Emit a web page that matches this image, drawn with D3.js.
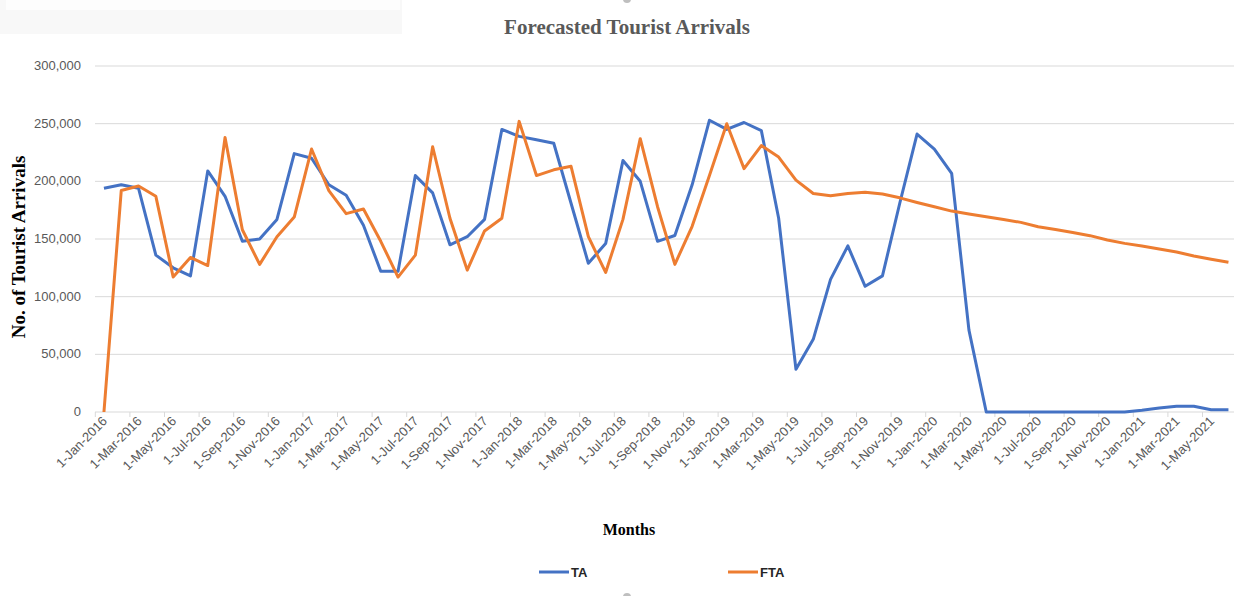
<!DOCTYPE html>
<html>
<head>
<meta charset="utf-8">
<script src="https://cdn.jsdelivr.net/npm/d3@7"></script>
<style>
  body { margin: 0; background: white; }
</style>
</head>
<body>
<div id="chart"></div>
<script>
// months Jan-2016 .. Jun-2021
var monthNames = ['Jan','Feb','Mar','Apr','May','Jun','Jul','Aug','Sep','Oct','Nov','Dec'];
var months = [];
for (var yr = 2016; yr <= 2021; yr++) {
    for (var m = 0; m < 12; m++) {
        if (yr == 2021 && m > 5) break;
        months.push('1-' + monthNames[m] + '-' + yr);
    }
}

var taValues = [194000, 197000, 194000, 136000, 125000, 118000, 209000, 187000, 148000, 150000,
    167000, 224000, 220000, 197000, 188000, 162000, 122000, 122000, 205000, 190000,
    145000, 152000, 167000, 245000, 239000, 236000, 233000, 181000, 129000, 146000,
    218000, 200000, 148000, 153000, 197000, 253000, 245000, 251000, 244000, 168000,
    37000, 63000, 115000, 144000, 109000, 118000, 181000, 241000, 228000, 207000,
    71000, 0, 0, 0, 0, 0, 0, 0, 0, 0,
    1500, 3500, 5000, 5000, 2000, 2000];

var ftaValues = [0, 192000, 196000, 187000, 117000, 134000, 127000, 238000, 158000, 128000,
    152000, 169000, 228000, 192000, 172000, 176000, 148000, 117000, 136000, 230000,
    168000, 123000, 157000, 168000, 252000, 205000, 210000, 213000, 152000, 121000,
    167000, 237000, 178000, 128000, 161000, 205000, 250000, 211000, 231000, 221000,
    201000, 189500, 187500, 189500, 190600, 189000, 185700, 181700, 178000, 174200,
    171600, 169300, 167000, 164400, 160600, 158300, 155700, 152900, 149100, 146200,
    143900, 141300, 138700, 135300, 132400, 129800];

var yTicks = [0, 50000, 100000, 150000, 200000, 250000, 300000];

var svgWidth = 1234,
    svgHeight = 596;

var svg = d3.select('#chart').append('svg')
    .attr('width', svgWidth)
    .attr('height', svgHeight)
    .style('background', 'white')

// faint shadow box top-left
svg.append('rect')
    .attr('x', 0).attr('y', 0).attr('width', 402).attr('height', 34)
    .attr('fill', '#f8f8f8')
svg.append('rect')
    .attr('x', 6).attr('y', 0).attr('width', 394).attr('height', 10)
    .attr('fill', '#fdfdfd')

var x = d3.scaleBand()
    .domain(months)
    .range([95.3, 95.3 + 17.3 * months.length])
    .padding(0)

var y = d3.scaleLinear()
    .domain([0, 300000])
    .range([412, 66])

var xc = function(d) { return x(d) + x.bandwidth() / 2 }

// gridlines
svg.append('g')
    .selectAll('line')
    .data(yTicks.slice(1))
    .enter().append('line')
    .attr('x1', 95).attr('x2', svgWidth)
    .attr('y1', function(d) { return y(d) }).attr('y2', function(d) { return y(d) })
    .attr('stroke', '#d9d9d9').attr('stroke-width', 1)

// y tick labels
svg.append('g')
    .selectAll('text')
    .data(yTicks)
    .enter().append('text')
    .text(function(d) { return d3.format(',')(d) })
    .attr('x', 81)
    .attr('y', function(d) { return y(d) + 4 })
    .attr('text-anchor', 'end')
    .attr('font-family', 'Liberation Sans Narrow, Liberation Sans, Arial, sans-serif')
    .attr('font-size', '13px')
    .attr('fill', '#595959')

// x axis line and ticks
svg.append('line')
    .attr('x1', 95).attr('x2', svgWidth)
    .attr('y1', y(0)).attr('y2', y(0))
    .attr('stroke', '#d9d9d9').attr('stroke-width', 1)

var tickMonths = months.filter(function(d, i) { return i % 2 == 0 })

svg.append('g')
    .selectAll('line')
    .data(tickMonths)
    .enter().append('line')
    .attr('x1', function(d) { return x(d) }).attr('x2', function(d) { return x(d) })
    .attr('y1', y(0)).attr('y2', y(0) + 5)
    .attr('stroke', '#d9d9d9').attr('stroke-width', 1)

svg.append('g')
    .selectAll('text')
    .data(tickMonths)
    .enter().append('text')
    .text(function(d) { return d })
    .attr('transform', function(d) { return 'translate(' + (xc(d) + 4) + ',' + (y(0) + 10) + ') rotate(-45)' })
    .attr('text-anchor', 'end')
    .attr('font-family', 'Liberation Sans Narrow, Liberation Sans, Arial, sans-serif')
    .attr('font-size', '13px')
    .attr('fill', '#595959')

// lines
var line = d3.line()
    .x(function(d, i) { return xc(months[i]) })
    .y(function(d) { return y(d) })

svg.append('path')
    .datum(taValues)
    .attr('d', line)
    .attr('fill', 'none')
    .attr('stroke', '#4472C4').attr('stroke-width', 3)
    .attr('stroke-linejoin', 'round')

svg.append('path')
    .datum(ftaValues)
    .attr('d', line)
    .attr('fill', 'none')
    .attr('stroke', '#ED7D31').attr('stroke-width', 3)
    .attr('stroke-linejoin', 'round')

// title
svg.append('text')
    .text('Forecasted Tourist Arrivals')
    .attr('x', 627).attr('y', 34)
    .attr('text-anchor', 'middle')
    .attr('font-family', 'Liberation Serif, Times New Roman, serif')
    .attr('font-weight', 'bold')
    .attr('font-size', '21px')
    .attr('fill', '#595959')

// y axis title
svg.append('text')
    .text('No. of Tourist Arrivals')
    .attr('transform', 'translate(25,247) rotate(-90)')
    .attr('text-anchor', 'middle')
    .attr('font-family', 'Liberation Serif, Times New Roman, serif')
    .attr('font-weight', 'bold')
    .attr('font-size', '19px')
    .attr('fill', 'black')

// x axis title
svg.append('text')
    .text('Months')
    .attr('x', 629).attr('y', 535)
    .attr('text-anchor', 'middle')
    .attr('font-family', 'Liberation Serif, Times New Roman, serif')
    .attr('font-weight', 'bold')
    .attr('font-size', '16px')
    .attr('fill', 'black')

// legend
var legendItems = [['TA', '#4472C4', 539], ['FTA', '#ED7D31', 728]]
legendItems.forEach(function(item) {
    svg.append('line')
        .attr('x1', item[2]).attr('x2', item[2] + 30)
        .attr('y1', 572).attr('y2', 572)
        .attr('stroke', item[1]).attr('stroke-width', 3)
    svg.append('text')
        .text(item[0])
        .attr('x', item[2] + 32).attr('y', 577)
        .attr('font-family', 'Liberation Sans Narrow, Liberation Sans, Arial, sans-serif')
        .attr('font-weight', 'bold')
        .attr('font-size', '13px')
        .attr('fill', '#262626')
})

// small grey marks (chart handles)
svg.append('circle').attr('cx', 627).attr('cy', -1).attr('r', 4).attr('fill', '#bfbfbf')
svg.append('circle').attr('cx', 627).attr('cy', 597).attr('r', 4).attr('fill', '#bfbfbf')
</script>
</body>
</html>
